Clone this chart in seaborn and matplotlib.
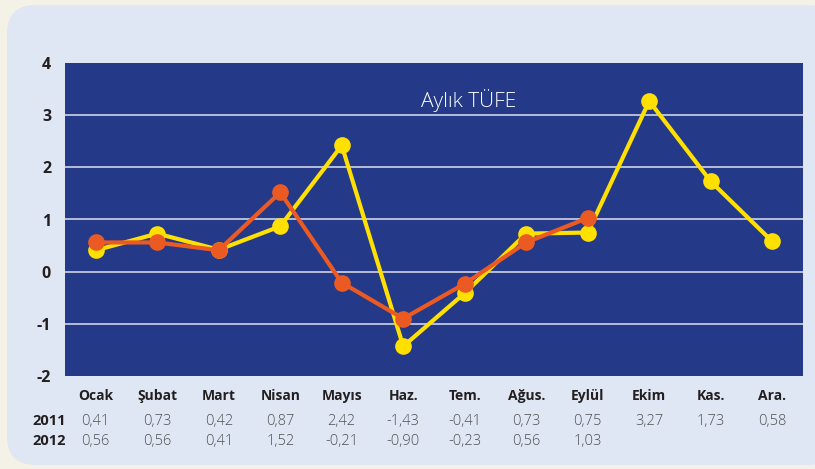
import numpy as np
import pandas as pd
import matplotlib
matplotlib.use("Agg")
import matplotlib.pyplot as plt
from matplotlib.patches import FancyBboxPatch
import matplotlib.transforms as mtransforms
import seaborn as sns

# data
months = ["Ocak", "Şubat", "Mart", "Nisan", "Mayıs", "Haz.", "Tem.",
          "Ağus.", "Eylül", "Ekim", "Kas.", "Ara."]
values_2011 = [0.41, 0.73, 0.42, 0.87, 2.42, -1.43, -0.41, 0.73, 0.75, 3.27, 1.73, 0.58]
values_2012 = [0.56, 0.56, 0.41, 1.52, -0.21, -0.90, -0.23, 0.56, 1.03]
years = ["2011", "2012"]
yticks = [-2, -1, 0, 1, 2, 3, 4]
title = "Aylık TÜFE"

# colours
bg_outer = "#f4f1e6"
bg_panel = "#e0e7f4"
plot_bg = "#243a89"
grid_col = "#c3c6de"
col_2011 = "#ffe000"
col_2012 = "#ec5a24"
text_col = "#231f20"
num_col = "#505050"

sns.set_theme(style="white")
plt.rcParams["font.family"] = ["Open Sans", "DejaVu Sans"]

rows = []
for i, v in enumerate(values_2011):
    rows.append({"pos": i, "value": v, "year": "2011"})
for i, v in enumerate(values_2012):
    rows.append({"pos": i, "value": v, "year": "2012"})
df = pd.DataFrame(rows)

fig = plt.figure(figsize=(8.15, 4.69), dpi=100)
fig.patch.set_facecolor(bg_outer)

# rounded light panel behind everything
panel = FancyBboxPatch((7 / 815, 4 / 469), 830 / 815, 460 / 469,
                       boxstyle="round,pad=0,rounding_size=0.035",
                       transform=fig.transFigure, facecolor=bg_panel,
                       edgecolor="none", zorder=-1, mutation_aspect=815 / 469)
fig.patches.append(panel)

ax = fig.add_axes([65 / 815, 93 / 469, 738 / 815, 313 / 469])
ax.set_facecolor(plot_bg)

sns.lineplot(data=df, x="pos", y="value", hue="year", hue_order=years,
             palette={"2011": col_2011, "2012": col_2012},
             marker="o", markersize=12, markeredgewidth=0, linewidth=3,
             legend=False, ax=ax, zorder=3)

ax.set_xlim(-0.5, len(months) - 0.5)
ax.set_ylim(-2, 4)
ax.set_yticks(yticks)
ax.set_yticklabels([str(t) for t in yticks], fontsize=11.5, fontweight="bold",
                   color=text_col)
for t in yticks[1:-1]:
    ax.axhline(t, color=grid_col, linewidth=1.3, zorder=1)
for s in ax.spines.values():
    s.set_visible(False)
ax.tick_params(axis="y", length=0, pad=10)

ax.set_xticks(range(len(months)))
ax.set_xticklabels(months, fontsize=10, fontweight="bold", color=text_col)
ax.tick_params(axis="x", length=0, pad=9)
ax.set_xlabel("")
ax.set_ylabel("")

ax.text(0.547, 0.88, title, transform=ax.transAxes, ha="center", va="center",
        fontsize=15, color="white", fontweight="light")

# value table under the axis
trans = mtransforms.blended_transform_factory(ax.transData, fig.transFigure)
for yr, vals, ypos in [("2011", values_2011, 1 - 421 / 469),
                       ("2012", values_2012, 1 - 441 / 469)]:
    fig.text(66 / 815, ypos, yr, ha="right", va="center", fontsize=10.5,
             fontweight="bold", color=text_col)
    for i, v in enumerate(vals):
        ax.text(i, ypos, f"{v:.2f}".replace(".", ","), transform=trans,
                ha="center", va="center", fontsize=10.5, color=num_col,
                fontweight="light")

fig.savefig("out.png", dpi=100, facecolor=fig.get_facecolor())
